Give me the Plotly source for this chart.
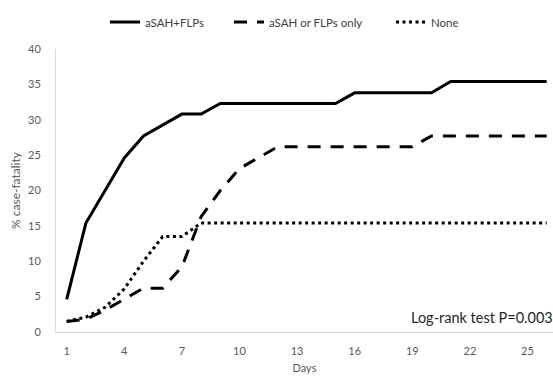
import plotly.graph_objects as go

days = list(range(1, 27))
both = [4.6, 15.4, 20.0, 24.6, 27.7, 29.2, 30.8, 30.8,
        32.3, 32.3, 32.3, 32.3, 32.3, 32.3, 32.3,
        33.8, 33.8, 33.8, 33.8, 33.8,
        35.4, 35.4, 35.4, 35.4, 35.4, 35.4]
either = [1.5, 1.8, 3.1, 4.6, 6.2, 6.2, 9.2, 16.3, 20.0, 23.1, 24.6,
          26.2, 26.2, 26.2, 26.2, 26.2, 26.2, 26.2, 26.2,
          27.7, 27.7, 27.7, 27.7, 27.7, 27.7, 27.7]
none = [1.5, 2.1, 3.5, 6.1, 10.0, 13.5, 13.5] + [15.4] * 19
names = ["aSAH+FLPs", "aSAH or FLPs only", "None"]
x_ticks = [1, 4, 7, 10, 13, 16, 19, 22, 25]
y_ticks = [0, 5, 10, 15, 20, 25, 30, 35, 40]

grey = "#595959"
font = "Lato, 'Open Sans', sans-serif"
W, H = 553, 379

fig = go.Figure()
styles = [("solid", 3), ("13px,10px", 3), ("3px,3.5px", 3)]
legend_ids = ["legend", "legend2", "legend3"]
legend_left = [105, 229, 391]
for name, ys, (dash, w), lid in zip(names, [both, either, none], styles, legend_ids):
    fig.add_trace(go.Scatter(x=days, y=ys, mode="lines", name=name, legend=lid,
                             line=dict(color="black", width=w, dash=dash)))

legend_common = dict(orientation="h", xref="container", yref="container",
                     xanchor="left", y=1 - 22 / H, yanchor="middle",
                     font=dict(size=11.5, color="#404040"), itemwidth=30,
                     bgcolor="rgba(0,0,0,0)")
legends = {lid: dict(legend_common, x=left / W) for lid, left in zip(legend_ids, legend_left)}

fig.update_layout(
    width=W, height=H,
    margin=dict(l=56, r=0, t=49, b=47),
    paper_bgcolor="white", plot_bgcolor="white",
    font=dict(family=font, color=grey, size=11),
    showlegend=True,
    **legends,
    xaxis=dict(range=[0.443, 26.33], tickvals=x_ticks, ticks="",
               showgrid=False, zeroline=False, showline=True,
               linecolor="#d9d9d9", linewidth=1, ticklabelstandoff=9,
               title=dict(text="Days", font=dict(size=11, color=grey), standoff=8)),
    yaxis=dict(range=[0, 40], tickvals=y_ticks, ticks="",
               showgrid=False, zeroline=False, showline=True,
               linecolor="#d9d9d9", linewidth=1, ticklabelstandoff=12,
               title=dict(text="% case-fatality", font=dict(size=12, color=grey), standoff=4)),
    annotations=[dict(text="Log-rank test P=0.003", xref="paper", yref="paper",
                      x=1, y=0.052, xanchor="right", yanchor="middle", xshift=2,
                      showarrow=False, font=dict(size=14.5, color="#262626"))],
)

fig.write_html("out.html", config={"displayModeBar": False},
               post_script="document.body.style.margin='0';")
